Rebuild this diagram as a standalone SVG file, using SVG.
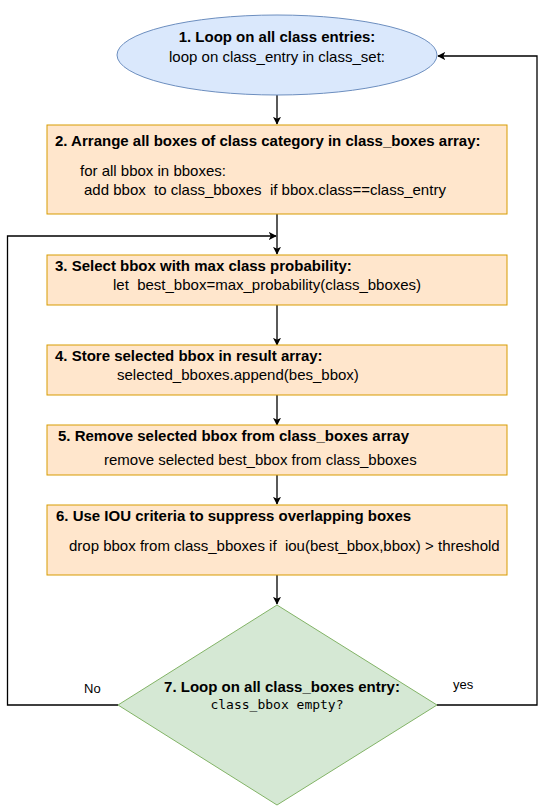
<svg xmlns="http://www.w3.org/2000/svg" width="546" height="806" viewBox="0 0 546 806">
<defs>
<marker id="arr" viewBox="0 0 10 10" refX="9" refY="5" markerWidth="8" markerHeight="8" markerUnits="userSpaceOnUse" orient="auto">
<path d="M0,0 L10,5 L0,10 L2.5,5 Z" fill="#000"/>
</marker>
</defs>
<style>
text{font-family:"Liberation Sans",Arial,sans-serif;font-size:15px;fill:#000}
.b{font-weight:bold}
.s{font-size:13px}
.m{font-family:"DejaVu Sans Mono","Liberation Mono",monospace;font-size:13px}
.box{fill:#ffe6cc;stroke:#d79b00;stroke-width:1}
.c{fill:none;stroke:#000;stroke-width:1.3}
</style>
<rect width="546" height="806" fill="#fff"/>
<g id="connectors">
<path class="c" d="M277,95 V124" marker-end="url(#arr)"/>
<path class="c" d="M277,214 V254" marker-end="url(#arr)"/>
<path class="c" d="M277,305 V345" marker-end="url(#arr)"/>
<path class="c" d="M277,395 V425" marker-end="url(#arr)"/>
<path class="c" d="M277,475 V504" marker-end="url(#arr)"/>
<path class="c" d="M277,575 V604" marker-end="url(#arr)"/>
<path class="c" d="M118,705 H7.5 V236 H276" marker-end="url(#arr)"/>
<path class="c" d="M437,705 H537 V56 H438" marker-end="url(#arr)"/>
<text class="s" x="84" y="693">No</text>
<text class="s" x="453" y="689">yes</text>
</g>
<g id="n1">
<ellipse cx="277" cy="55" rx="160" ry="40" fill="#dae8fc" stroke="#6c8ebf"/>
<text class="b" x="277" y="42" text-anchor="middle">1. Loop on all class entries:</text>
<text x="277" y="62" text-anchor="middle">loop on class_entry in class_set:</text>
</g>
<g id="n2">
<rect class="box" x="47" y="125" width="460" height="89"/>
<text class="b" x="55" y="146">2. Arrange all boxes of class category in class_boxes array:</text>
<text x="80" y="176" xml:space="preserve">for all bbox in bboxes:</text>
<text x="84" y="195" xml:space="preserve">add bbox  to class_bboxes  if bbox.class==class_entry</text>
</g>
<g id="n3">
<rect class="box" x="47" y="255" width="460" height="50"/>
<text class="b" x="55" y="271">3. Select bbox with max class probability:</text>
<text x="113" y="290" xml:space="preserve">let  best_bbox=max_probability(class_bboxes)</text>
</g>
<g id="n4">
<rect class="box" x="47" y="345" width="460" height="50"/>
<text class="b" x="55" y="361">4. Store selected bbox in result array:</text>
<text x="117" y="380">selected_bboxes.append(bes_bbox)</text>
</g>
<g id="n5">
<rect class="box" x="47" y="425" width="460" height="50"/>
<text class="b" x="58" y="441">5. Remove selected bbox from class_boxes array</text>
<text x="104" y="465">remove selected best_bbox from class_bboxes</text>
</g>
<g id="n6">
<rect class="box" x="47" y="505" width="460" height="70"/>
<text class="b" x="56" y="521">6. Use IOU criteria to suppress overlapping boxes</text>
<text x="69" y="551" xml:space="preserve">drop bbox from class_bboxes if  iou(best_bbox,bbox) &gt; threshold</text>
</g>
<g id="n7">
<polygon points="277,605 437,705 277,805 118,705" fill="#d5e8d4" stroke="#82b366"/>
<text class="b" x="282" y="692" text-anchor="middle">7. Loop on all class_boxes entry:</text>
<text class="m" x="277" y="709" text-anchor="middle">class_bbox empty?</text>
</g>
</svg>
